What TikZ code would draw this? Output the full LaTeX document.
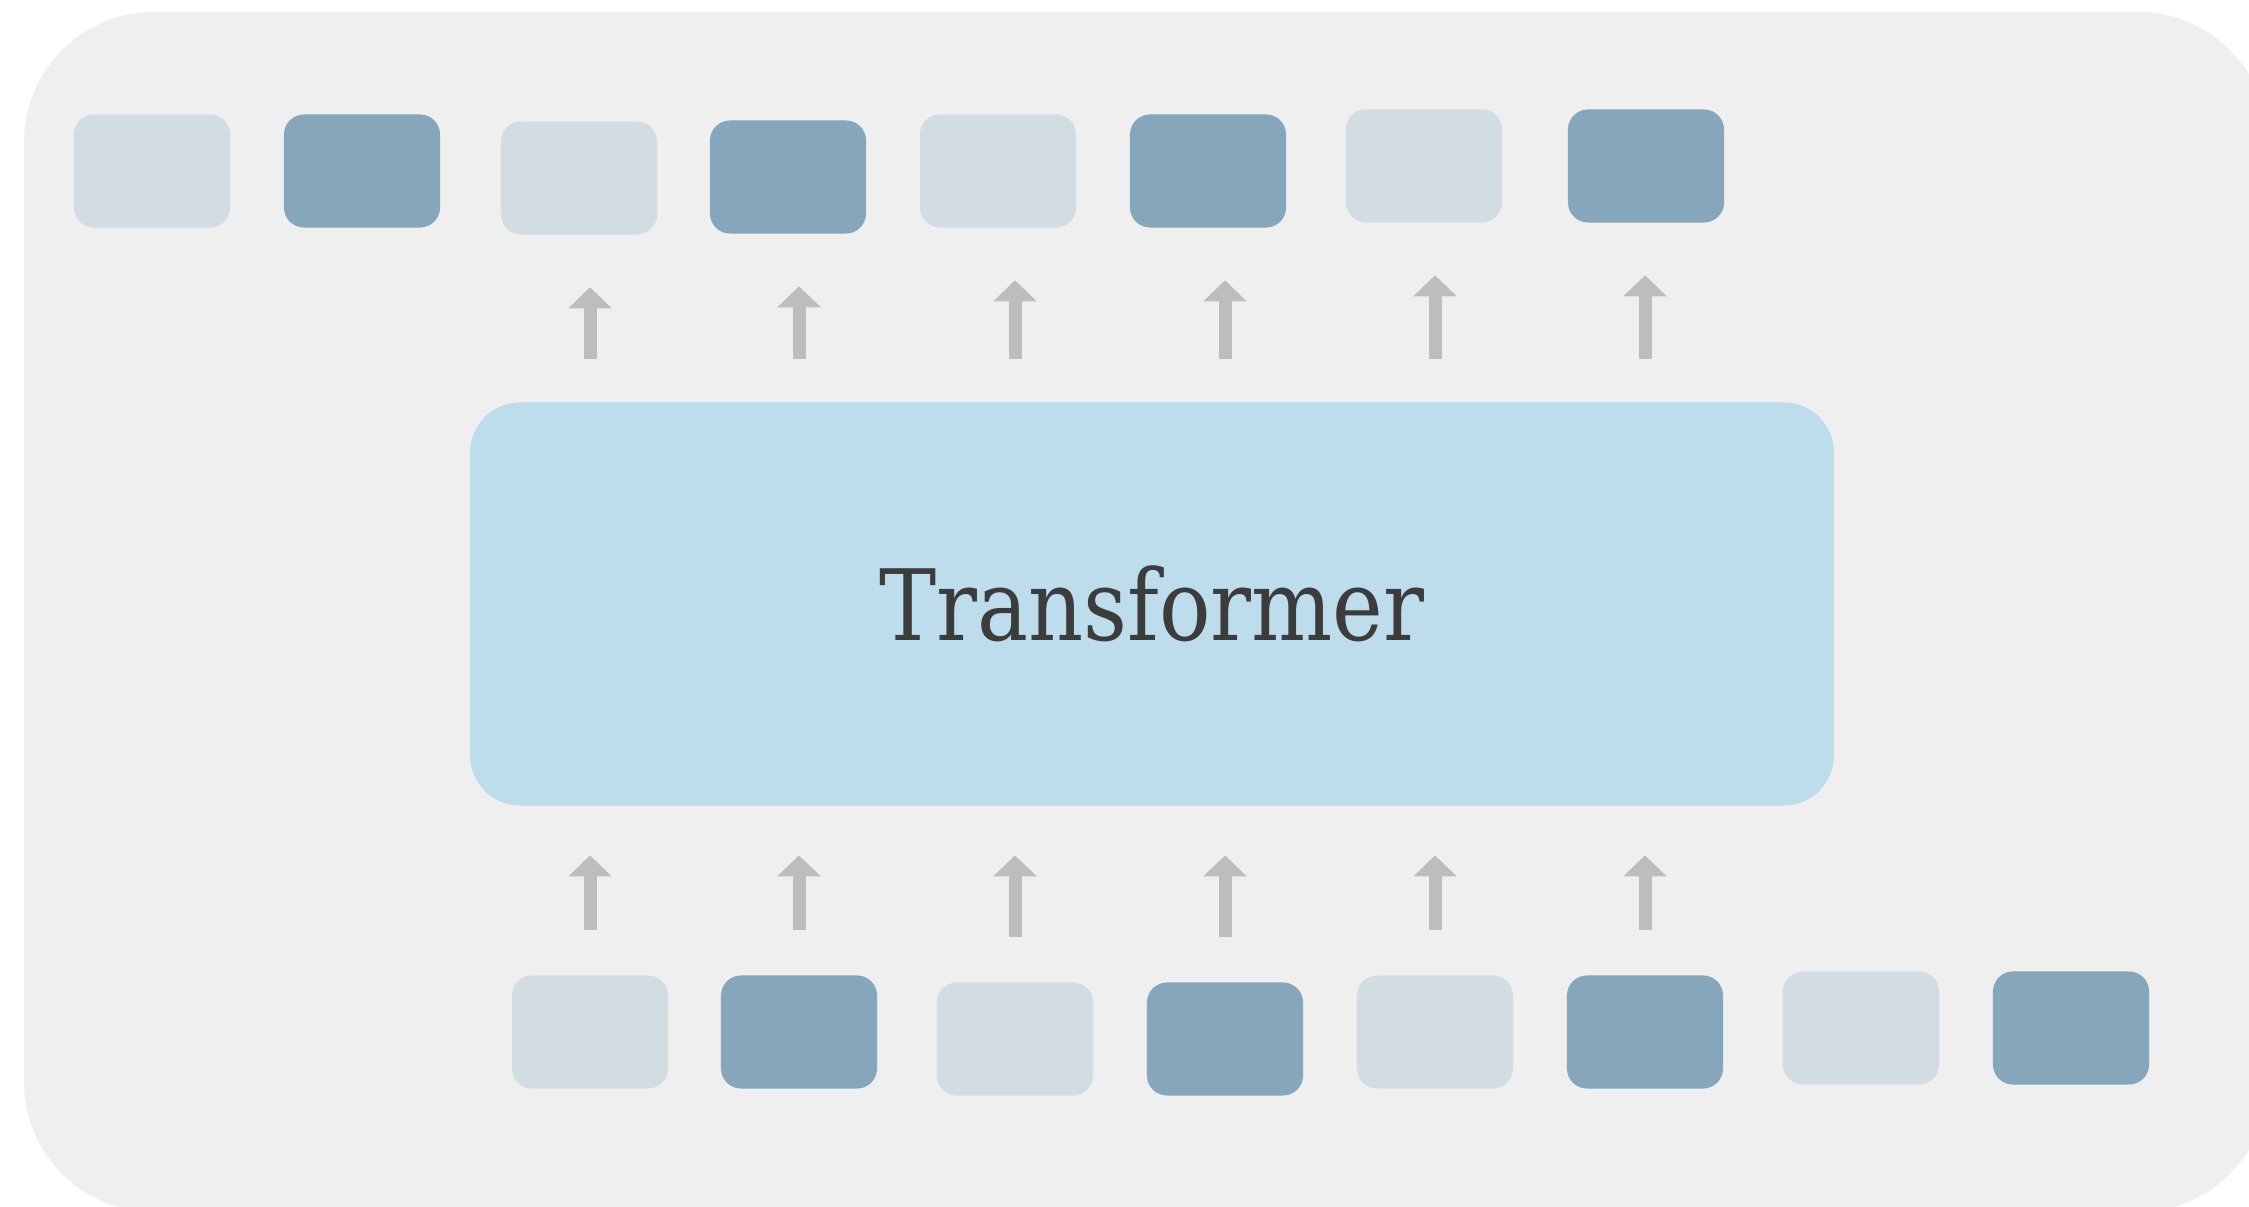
\documentclass[tikz,border=0pt]{standalone}
\usepackage{fontspec}
\setmainfont{DejaVu Serif}[FakeStretch = 0.87]
\usetikzlibrary{arrows.meta}

\definecolor{panel}{HTML}{EFEFEF}
\definecolor{tokpale}{HTML}{D2DDE3}
\definecolor{tokdeep}{HTML}{86A6BB}
\definecolor{tfblue}{HTML}{BDDCEC}
\definecolor{arrowgrey}{HTML}{BDBDBD}
\definecolor{ink}{HTML}{3C3C3C}

\begin{document}
\begin{tikzpicture}[x = 0.01cm, y = -0.01cm,
  token/.style = {rounded corners = 0.2cm, minimum width = 1.56cm, minimum height = 1.13cm, inner sep = 0pt},
  pale/.style = {token, fill = tokpale},
  deep/.style = {token, fill = tokdeep},
  block/.style = {fill = tfblue, rounded corners = 0.5cm, minimum width = 13.63cm, minimum height = 4.03cm, text = ink, font = \fontsize{28}{34}\selectfont},
  up/.style = {draw = arrowgrey, line width = 3.7pt, -{Triangle[width = 4.2mm, length = 2.1mm]}}]
\useasboundingbox (0, 0) rectangle (2249, 1207);
\fill[panel, rounded corners = 1.3cm] (24, 12) rectangle (2268, 1212);

% output tokens
\node[pale] (out1) at (152, 171) {};
\node[deep] (out2) at (362, 171) {};
\node[pale] (out3) at (579, 178) {};
\node[deep] (out4) at (788, 177) {};
\node[pale] (out5) at (998, 171) {};
\node[deep] (out6) at (1208, 171) {};
\node[pale] (out7) at (1424, 166) {};
\node[deep] (out8) at (1646, 166) {};

\node[block] (tf) at (1152, 604) {Transformer};

% input tokens
\node[pale] (in1) at (590, 1032) {};
\node[deep] (in2) at (799, 1032) {};
\node[pale] (in3) at (1015, 1039) {};
\node[deep] (in4) at (1225, 1039) {};
\node[pale] (in5) at (1435, 1032) {};
\node[deep] (in6) at (1645, 1032) {};
\node[pale] (in7) at (1861, 1028) {};
\node[deep] (in8) at (2071, 1028) {};

% inputs into the transformer
\draw[up, shorten <=4.5mm, shorten >=4.9mm] (in1.north) -- (in1.north |- tf.south);
\draw[up, shorten <=4.5mm, shorten >=4.9mm] (in2.north) -- (in2.north |- tf.south);
\draw[up, shorten <=4.5mm, shorten >=4.9mm] (in3.north) -- (in3.north |- tf.south);
\draw[up, shorten <=4.5mm, shorten >=4.9mm] (in4.north) -- (in4.north |- tf.south);
\draw[up, shorten <=4.5mm, shorten >=4.9mm] (in5.north) -- (in5.north |- tf.south);
\draw[up, shorten <=4.5mm, shorten >=4.9mm] (in6.north) -- (in6.north |- tf.south);

% transformer out to shifted tokens
\draw[up, shorten <=4.3mm, shorten >=5.2mm] (tf.north -| in1) -- (out3.south -| in1);
\draw[up, shorten <=4.3mm, shorten >=5.2mm] (tf.north -| in2) -- (out4.south -| in2);
\draw[up, shorten <=4.3mm, shorten >=5.2mm] (tf.north -| in3) -- (out5.south -| in3);
\draw[up, shorten <=4.3mm, shorten >=5.2mm] (tf.north -| in4) -- (out6.south -| in4);
\draw[up, shorten <=4.3mm, shorten >=5.2mm] (tf.north -| in5) -- (out7.south -| in5);
\draw[up, shorten <=4.3mm, shorten >=5.2mm] (tf.north -| in6) -- (out8.south -| in6);
\end{tikzpicture}
\end{document}
